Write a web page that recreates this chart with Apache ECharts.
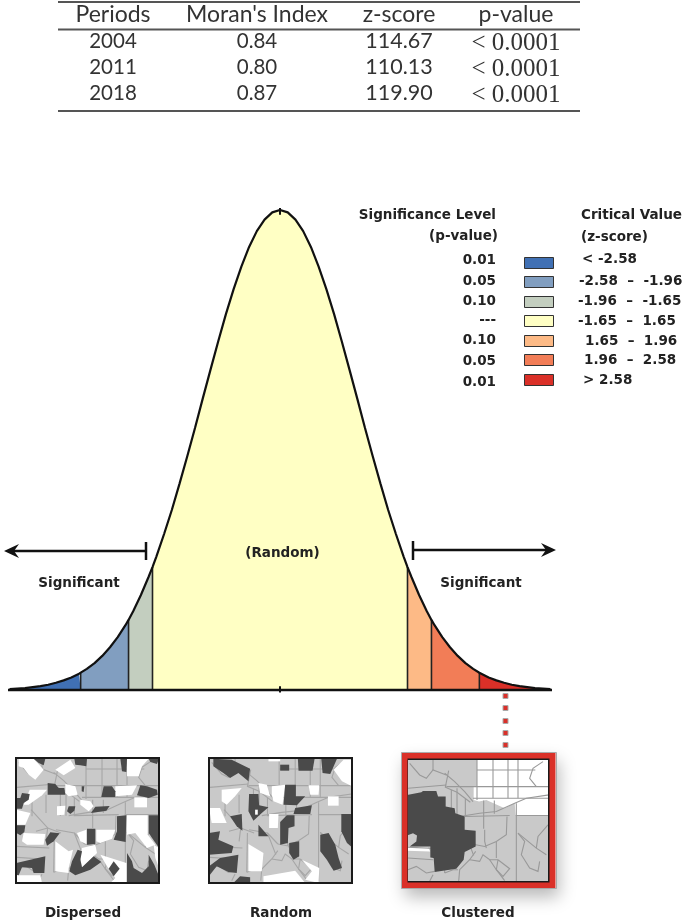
<!DOCTYPE html>
<html>
<head>
<meta charset="utf-8">
<style>
  html, body { margin: 0; padding: 0; background: #fff; }
  #chart { width: 685px; height: 922px; filter: blur(0.45px); }
</style>
<script src="https://cdn.jsdelivr.net/npm/echarts@6/dist/echarts.min.js"></script>
</head>
<body>
<div id="chart"></div>
<script>
// table at the top
const tableHeader = ['Periods', "Moran's Index", 'z-score', 'p-value'];
const periods = ['2004', '2011', '2018'];
const moransIndex = ['0.84', '0.80', '0.87'];
const zScores = ['114.67', '110.13', '119.90'];
const pValues = ['< 0.0001', '< 0.0001', '< 0.0001'];

// legend
const levelLabels = ['0.01', '0.05', '0.10', '---', '0.10', '0.05', '0.01'];
const criticalLabels = ['< -2.58', '-2.58  –  -1.96', '-1.96  –  -1.65', '-1.65  –  1.65', '1.65  –  1.96', '1.96  –  2.58', '> 2.58'];
const bandColors = ['#4070b4', '#819ec0', '#c3cebf', '#ffffc4', '#fdba86', '#f27d57', '#da3028'];
const bandEdges = [-3.5, -2.58, -1.96, -1.65, 1.65, 1.96, 2.58, 3.5];

// bell curve (z, height relative to the peak)
const curveZ = [-3.5, -3.4, -3.3, -3.2, -3.1, -3.0, -2.9, -2.8, -2.7, -2.6, -2.58, -2.5, -2.4, -2.3, -2.2, -2.1, -2.0, -1.96,
  -1.9, -1.8, -1.7, -1.65, -1.6, -1.5, -1.4, -1.3, -1.2, -1.1, -1.0, -0.9, -0.8, -0.7, -0.6, -0.5, -0.4, -0.3, -0.2, -0.1, 0,
  0.1, 0.2, 0.3, 0.4, 0.5, 0.6, 0.7, 0.8, 0.9, 1.0, 1.1, 1.2, 1.3, 1.4, 1.5, 1.6, 1.65, 1.7, 1.8, 1.9, 1.96, 2.0,
  2.1, 2.2, 2.3, 2.4, 2.5, 2.58, 2.6, 2.7, 2.8, 2.9, 3.0, 3.1, 3.2, 3.3, 3.4, 3.5];
const curveH = [.002, .003, .004, .006, .008, .011, .015, .020, .026, .034, .036, .044, .056, .071, .089, .110, .135, .146,
  .164, .198, .236, .256, .278, .325, .375, .430, .487, .546, .607, .667, .726, .783, .835, .882, .923, .956, .980, .995, 1,
  .995, .980, .956, .923, .882, .835, .783, .726, .667, .607, .546, .487, .430, .375, .325, .278, .256, .236, .198, .164, .146, .135,
  .110, .089, .071, .056, .044, .036, .034, .026, .020, .015, .011, .008, .006, .004, .003, .002];

// tract boundaries shared by the three maps, relative to the map frame
const tractLines = [
  [[8, 13], [38, 48], [58, 58], [78, 33], [118, 48]], [[78, 3], [78, 33]],
  [[113, 43], [143, 68], [173, 98], [198, 128]], [[125, 35], [115, 85], [150, 100], [190, 130]],
  [[3, 88], [118, 78]], [[210, 3], [210, 123]], [[258, 3], [258, 118]], [[303, 3], [303, 118]], [[333, 3], [333, 118]],
  [[210, 33], [385, 33]], [[118, 83], [426, 83]], [[198, 118], [426, 118]],
  [[158, 173], [218, 163], [268, 158], [323, 133], [358, 118], [426, 108]],
  [[328, 133], [328, 370]], [[326, 170], [426, 170]], [[173, 173], [308, 170]],
  [[300, 173], [298, 228], [268, 248], [233, 263], [206, 258]], [[233, 213], [233, 248], [238, 268]], [[268, 248], [268, 298]],
  [[206, 278], [188, 303], [158, 333], [155, 368]], [[188, 303], [218, 308], [228, 288], [248, 303], [273, 303]],
  [[273, 303], [308, 330], [288, 353], [268, 333], [273, 303]], [[248, 303], [268, 333], [293, 366]],
  [[333, 223], [353, 248], [343, 288], [368, 328], [393, 338], [398, 308]], [[333, 223], [388, 268], [418, 288]],
  [[423, 198], [393, 233], [388, 268]], [[3, 298], [78, 303]], [[3, 333], [28, 323], [58, 343], [83, 338]],
  [[78, 348], [68, 368]], [[113, 343], [138, 333], [153, 333]], [[133, 93], [133, 173]], [[150, 88], [150, 173]],
  [[408, 8], [378, 28], [368, 58], [388, 83]], [[48, 115], [48, 175]], [[90, 110], [90, 165]], [[45, 155], [95, 210], [90, 250]],
  [[120, 215], [175, 225], [200, 290]], [[60, 220], [95, 210], [135, 225]], [[0, 265], [100, 270]], [[230, 125], [230, 210]],
  [[175, 120], [175, 170]], [[262, 125], [262, 165]], [[115, 225], [113, 343]], [[175, 225], [206, 258]]
];

// Dispersed pattern, zoomed picture units
const dispersedDark = [
  [[100, 42], [135, 42], [130, 62], [115, 55]], [[222, 42], [260, 42], [258, 65], [240, 62], [225, 60]],
  [[360, 42], [380, 42], [378, 82], [365, 80]], [[445, 42], [476, 42], [470, 58], [450, 52]],
  [[142, 115], [165, 118], [175, 130], [192, 130], [195, 150], [142, 150]], [[244, 125], [252, 125], [250, 142], [244, 140]],
  [[310, 125], [335, 125], [345, 140], [345, 157], [303, 157]], [[420, 122], [440, 125], [470, 135], [472, 150], [445, 160], [410, 152]],
  [[65, 145], [88, 148], [85, 165], [70, 175], [65, 192], [48, 192], [48, 160], [60, 160]],
  [[205, 185], [225, 185], [222, 198], [210, 208], [200, 200]], [[285, 186], [328, 184], [318, 198], [272, 205]],
  [[48, 242], [75, 242], [72, 262], [60, 272], [48, 265]], [[350, 215], [378, 212], [376, 292], [340, 285], [350, 260]],
  [[445, 212], [476, 212], [476, 310], [462, 290], [445, 265]], [[150, 263], [178, 266], [160, 290], [140, 303], [135, 285]],
  [[260, 252], [285, 252], [285, 298], [260, 300]],
  [[48, 355], [135, 335], [132, 385], [100, 385], [95, 370], [65, 368], [55, 392], [48, 390]],
  [[232, 315], [245, 320], [240, 345], [245, 368], [280, 335], [303, 352], [270, 375], [225, 392], [207, 380], [215, 350]],
  [[340, 350], [358, 372], [340, 395], [325, 372]],
  [[380, 325], [395, 350], [400, 370], [425, 385], [445, 365], [445, 330], [462, 360], [476, 395], [476, 415], [380, 415]]
];
const dispersedWhite = [
  [[55, 42], [100, 42], [130, 75], [105, 105], [85, 90], [70, 70], [55, 65]], [[165, 75], [210, 45], [225, 70], [190, 92]],
  [[380, 42], [445, 42], [425, 65], [415, 95], [380, 95]], [[195, 118], [225, 125], [232, 150], [205, 155], [195, 145]],
  [[345, 125], [410, 122], [395, 150], [345, 155]], [[88, 135], [140, 135], [125, 152], [85, 180], [70, 180]],
  [[402, 158], [440, 158], [440, 188], [402, 188]], [[240, 165], [270, 170], [280, 185], [265, 200], [240, 180]],
  [[170, 185], [195, 183], [192, 210], [170, 212]], [[48, 195], [90, 205], [75, 240], [48, 240]],
  [[380, 212], [442, 212], [442, 270], [465, 300], [440, 310], [405, 265], [380, 270]], [[230, 265], [258, 255], [258, 298], [240, 290]],
  [[288, 255], [345, 255], [335, 282], [300, 295], [288, 290]], [[70, 265], [135, 268], [130, 300], [80, 300], [65, 290]],
  [[165, 290], [205, 320], [218, 315], [205, 370], [205, 385], [165, 380]], [[245, 310], [285, 300], [290, 325], [245, 370], [240, 340]],
  [[48, 392], [120, 392], [125, 415], [48, 415]], [[300, 330], [378, 355], [378, 415], [330, 415], [345, 400], [320, 365]],
  [[460, 300], [476, 310], [476, 370], [465, 340]]
];

// Random pattern
const randomDark = [
  [[55, 42], [110, 45], [165, 72], [160, 110], [130, 85], [105, 100], [85, 85], [55, 65]], [[255, 60], [282, 60], [282, 78], [255, 78]],
  [[308, 42], [358, 42], [352, 78], [310, 78]], [[378, 42], [425, 42], [405, 88], [382, 85]],
  [[270, 120], [302, 120], [302, 155], [330, 155], [305, 182], [265, 180]],
  [[162, 148], [190, 148], [192, 182], [220, 188], [200, 205], [175, 228], [160, 200]],
  [[300, 190], [350, 182], [345, 208], [295, 208]], [[105, 215], [140, 208], [142, 258], [125, 245]],
  [[275, 212], [298, 212], [298, 245], [280, 250], [278, 295], [255, 300], [255, 232]], [[190, 240], [220, 275], [190, 275]],
  [[438, 208], [470, 208], [470, 308], [455, 295], [438, 260]], [[42, 265], [75, 260], [70, 285], [115, 305], [110, 325], [42, 330]],
  [[42, 365], [75, 340], [130, 330], [125, 385], [100, 382], [65, 365], [45, 390]], [[115, 415], [135, 395], [165, 398], [165, 415]],
  [[375, 270], [400, 265], [420, 300], [430, 340], [440, 370], [415, 378], [395, 345], [375, 320]],
  [[282, 295], [312, 290], [312, 335], [295, 345], [282, 325]]
];
const randomWhite = [
  [[415, 75], [445, 45], [470, 45], [470, 125], [440, 110]], [[80, 135], [140, 130], [120, 155], [95, 180], [80, 170]],
  [[190, 115], [215, 120], [225, 155], [195, 145]], [[230, 125], [270, 120], [262, 180], [235, 170], [230, 150]],
  [[340, 122], [372, 122], [370, 150], [345, 150]], [[398, 155], [430, 155], [430, 183], [398, 183]],
  [[42, 190], [75, 190], [95, 235], [50, 235]], [[222, 208], [250, 208], [248, 250], [222, 250]],
  [[160, 298], [205, 325], [200, 380], [160, 380]], [[205, 395], [300, 378], [330, 415], [205, 415]],
  [[320, 345], [372, 370], [370, 415], [330, 405], [350, 380]], [[220, 42], [255, 42], [255, 50], [220, 50]]
];
const randomHoles = [[[180, 195], [188, 195], [188, 210], [180, 210]]];

// Clustered pattern
const clusteredDark = [
  [[52, 150], [95, 142], [100, 138], [140, 138], [145, 155], [168, 155], [168, 185], [195, 190], [197, 205], [225, 215], [225, 255],
   [258, 258], [258, 305], [225, 322], [222, 345], [200, 372], [135, 382], [132, 340], [122, 338], [122, 305], [60, 305], [80, 290],
   [82, 272], [70, 265], [52, 272]]
];
const clusteredWhite = [
  [[262, 42], [478, 42], [478, 212], [378, 212], [375, 175], [345, 190], [290, 165], [268, 170], [252, 165], [252, 125], [262, 125]],
  [[52, 305], [115, 308], [122, 320], [52, 318]]
];

// the three maps: frame in picture pixels, frame in zoomed units, patterns
const maps = [
  { label: 'Dispersed', labelX: 83, px: [16, 758, 143, 125], x: [47, 476], y: [40, 415], dark: dispersedDark, white: dispersedWhite, holes: [], lineColor: '#a6a6a6', linesOverWhite: false },
  { label: 'Random', labelX: 281, px: [209, 758, 143, 125], x: [42, 470], y: [40, 415], dark: randomDark, white: randomWhite, holes: randomHoles, lineColor: '#a6a6a6', linesOverWhite: false },
  { label: 'Clustered', labelX: 478, px: [407, 759, 142, 123], x: [52, 478], y: [42, 412], dark: clusteredDark, white: clusteredWhite, holes: [], lineColor: '#999', linesOverWhite: true }
];

const TEXT = '#222';
const UI = '"DejaVu Sans", sans-serif';
const TEX = '"Lato", "Noto Sans", sans-serif';
const SIZE = 13.5;

function label(x, y, text, align, font, size, weight, color) {
  return { type: 'text', x: x, y: y + 1.5, z: 10, style: { text: text, align: align, verticalAlign: 'middle', fontFamily: font, fontSize: size, fontWeight: weight || 'normal', fill: color || TEXT } };
}

const graphics = [];

// table
[2, 29.5, 111].forEach(y => graphics.push({ type: 'rect', z: 10, shape: { x: 58, y: y - 1, width: 522, height: 2 }, style: { fill: '#555' } }));
const colX = [113, 257, 399, 516];
tableHeader.forEach((t, i) => graphics.push(label(colX[i], 13, t, 'center', TEX, 23, 'normal', '#333')));
periods.forEach((p, r) => {
  const y = 40 + r * 26;
  graphics.push(label(colX[0], y, p, 'center', TEX, 20.5, 'normal', '#333'));
  graphics.push(label(colX[1], y, moransIndex[r], 'center', TEX, 20.5, 'normal', '#333'));
  graphics.push(label(colX[2], y, zScores[r], 'center', TEX, 21.5, 'normal', '#333'));
  graphics.push(label(colX[3], y + 2, pValues[r], 'center', '"Liberation Serif", serif', 25, 'normal', '#333'));
});

// legend
graphics.push(label(496, 213.5, 'Significance Level', 'right', UI, SIZE, 'bold'));
graphics.push(label(498, 234.5, '(p-value)', 'right', UI, SIZE, 'bold'));
graphics.push(label(581, 213.5, 'Critical Value', 'left', UI, SIZE, 'bold'));
graphics.push(label(581, 235.5, '(z-score)', 'left', UI, SIZE, 'bold'));
const swatchY = [263, 282, 302, 321, 341, 360, 380];
const levelY = [259, 280, 300, 319, 339, 360, 381];
const critY = [258, 280, 300, 320, 340, 359, 379];
const critX = [582, 579, 578, 578, 585, 584, 583];
levelLabels.forEach((t, i) => {
  graphics.push(label(496, levelY[i], t, 'right', UI, SIZE, 'bold'));
  graphics.push({ type: 'rect', z: 10, shape: { x: 524.5, y: swatchY[i] - 5.5, width: 29, height: 11 }, style: { fill: bandColors[i], stroke: '#333', lineWidth: 1 } });
  graphics.push(label(critX[i], critY[i], criticalLabels[i], 'left', UI, SIZE, 'bold'));
});

// significance arrows
graphics.push({ type: 'line', z: 10, shape: { x1: 10, y1: 551, x2: 146, y2: 551 }, style: { stroke: '#111', lineWidth: 2.5 } });
graphics.push({ type: 'line', z: 10, shape: { x1: 146, y1: 542, x2: 146, y2: 560 }, style: { stroke: '#111', lineWidth: 2.5 } });
graphics.push({ type: 'polygon', z: 10, shape: { points: [[4, 551], [19, 544], [14, 551], [19, 558]] }, style: { fill: '#111' } });
graphics.push({ type: 'line', z: 10, shape: { x1: 413, y1: 550, x2: 550, y2: 550 }, style: { stroke: '#111', lineWidth: 2.5 } });
graphics.push({ type: 'line', z: 10, shape: { x1: 413, y1: 541, x2: 413, y2: 560 }, style: { stroke: '#111', lineWidth: 2.5 } });
graphics.push({ type: 'polygon', z: 10, shape: { points: [[556, 550], [541, 543], [546, 550], [541, 557]] }, style: { fill: '#111' } });
graphics.push(label(79, 581.5, 'Significant', 'center', UI, SIZE, 'bold'));
graphics.push(label(481, 581.5, 'Significant', 'center', UI, SIZE, 'bold'));
graphics.push(label(282.5, 551.5, '(Random)', 'center', UI, SIZE, 'bold'));

// dotted connector to the clustered map
[696, 708, 721, 733, 745].forEach(y => {
  graphics.push({ type: 'rect', z: 10, shape: { x: 503, y: y - 2.5, width: 5, height: 5 }, style: { fill: '#d9302a', stroke: '#aaa', lineWidth: 1 } });
});

// red frame of the clustered map
graphics.push({ type: 'rect', z: -1, shape: { x: 402, y: 753, width: 154, height: 136 }, style: { fill: '#fff', shadowBlur: 16, shadowColor: 'rgba(0,0,0,0.28)', shadowOffsetX: 3, shadowOffsetY: 8 } });
graphics.push({ type: 'rect', z: 10, shape: { x: 404.5, y: 755.5, width: 148, height: 130 }, style: { fill: 'none', stroke: '#da3028', lineWidth: 6 } });
graphics.push({ type: 'rect', z: 10, shape: { x: 401.5, y: 752.5, width: 155, height: 136 }, style: { fill: 'none', stroke: '#aaa', lineWidth: 1 } });

maps.forEach(m => graphics.push(label(m.labelX, 911.5, m.label, 'center', UI, SIZE, 'bold')));

// one grid for the curve, one per map
const grids = [{ left: 8, top: 210, width: 544, height: 480 }];
const xAxes = [{ type: 'value', min: -3.52, max: 3.52, show: false, gridIndex: 0 }];
const yAxes = [{ type: 'value', min: 0, max: 1, show: false, gridIndex: 0 }];
const series = [];

// one area per band, each one cut out of the curve
bandColors.forEach((color, b) => {
  const pts = [];
  curveZ.forEach((z, i) => {
    if (z >= bandEdges[b] && z <= bandEdges[b + 1]) pts.push([z, curveH[i]]);
  });
  series.push({ name: 'band' + b, type: 'line', xAxisIndex: 0, yAxisIndex: 0, data: pts, showSymbol: false, symbol: 'none', lineStyle: { width: 0 }, areaStyle: { color: color, opacity: 1 }, z: 2 });
});

// band edges and ticks
bandEdges.slice(1, -1).forEach(e => {
  const h = curveH[curveZ.indexOf(e)];
  series.push({ type: 'line', xAxisIndex: 0, yAxisIndex: 0, data: [[e, 0], [e, h]], symbol: 'none', lineStyle: { color: '#222', width: 1.6 }, z: 3 });
});
series.push({ type: 'line', xAxisIndex: 0, yAxisIndex: 0, clip: false, data: [[0, -0.005], [0, 0.008]], symbol: 'none', lineStyle: { color: '#111', width: 2 }, z: 3 });
series.push({ type: 'line', xAxisIndex: 0, yAxisIndex: 0, clip: false, data: [[0, 0.99], [0, 1.004]], symbol: 'none', lineStyle: { color: '#111', width: 2 }, z: 3 });
series.push({ type: 'line', xAxisIndex: 0, yAxisIndex: 0, clip: false, data: [[-3.52, 0], [3.52, 0]], symbol: 'none', lineStyle: { color: '#111', width: 2.4 }, z: 4 });
series.push({ name: 'curve', type: 'line', xAxisIndex: 0, yAxisIndex: 0, data: curveZ.map((z, i) => [z, curveH[i]]), symbol: 'none', lineStyle: { color: '#111', width: 2.2 }, z: 4 });

// maps
maps.forEach((m, k) => {
  const g = k + 1;
  grids.push({ left: m.px[0], top: m.px[1], width: m.px[2], height: m.px[3], show: true, backgroundColor: '#c9c9c9', borderWidth: 0 });
  xAxes.push({ type: 'value', min: m.x[0], max: m.x[1], show: false, gridIndex: g });
  yAxes.push({ type: 'value', min: m.y[0], max: m.y[1], inverse: true, show: false, gridIndex: g });

  const items = [];
  const whites = m.white.map(p => ({ kind: 'white', pts: p }));
  const lines = tractLines.map(l => ({ kind: 'line', pts: l.map(q => [q[0] + m.x[0], q[1] + m.y[0]]) }));
  if (m.linesOverWhite) items.push(...whites, ...lines);
  else items.push(...lines, ...whites);
  m.dark.forEach(p => items.push({ kind: 'dark', pts: p }));
  m.holes.forEach(p => items.push({ kind: 'white', pts: p }));
  items.push({ kind: 'frame', pts: [[m.x[0], m.y[0]], [m.x[1], m.y[0]], [m.x[1], m.y[1]], [m.x[0], m.y[1]]] });

  series.push({
    type: 'custom', name: m.label, xAxisIndex: g, yAxisIndex: g, clip: false, z: 3,
    data: items.map((_, i) => [i]),
    renderItem: function (params, api) {
      const it = items[params.dataIndex];
      const pts = it.pts.map(q => api.coord(q));
      if (it.kind === 'line') return { type: 'polyline', shape: { points: pts }, style: { fill: 'none', stroke: m.lineColor, lineWidth: 1.1 } };
      if (it.kind === 'frame') return { type: 'polygon', shape: { points: pts }, style: { fill: 'none', stroke: '#1a1a1a', lineWidth: 2 } };
      return { type: 'polygon', shape: { points: pts }, style: { fill: it.kind === 'dark' ? '#4a4a4a' : '#ffffff' } };
    }
  });
});

const chart = echarts.init(document.getElementById('chart'), null, { renderer: 'canvas' });
chart.setOption({
  animation: false,
  backgroundColor: '#fff',
  grid: grids,
  xAxis: xAxes,
  yAxis: yAxes,
  series: series,
  graphic: graphics
});
</script>
</body>
</html>
